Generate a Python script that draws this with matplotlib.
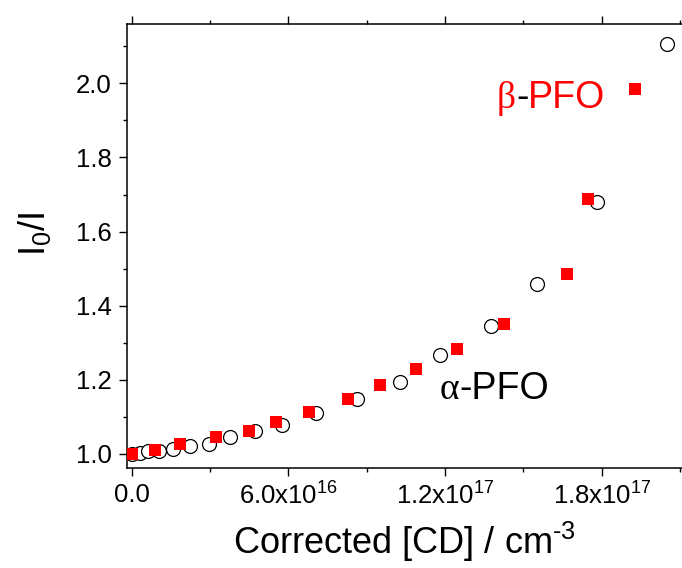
import matplotlib
matplotlib.use('Agg')
import matplotlib.pyplot as plt
from matplotlib.ticker import MultipleLocator, FuncFormatter

plt.rcParams['font.family'] = ['Liberation Sans', 'DejaVu Sans']
plt.rcParams['mathtext.fontset'] = 'custom'
plt.rcParams['mathtext.rm'] = 'Liberation Sans'
plt.rcParams['mathtext.it'] = 'Liberation Sans'
plt.rcParams['mathtext.default'] = 'regular'

# concentration in units of 1e16 cm^-3, quenching ratio I0/I
alpha_x = [0.0, 0.33, 0.61, 1.04, 1.58, 2.25, 2.96, 3.77, 4.74, 5.76, 7.04,
           8.61, 10.26, 11.82, 13.76, 15.51, 17.83, 20.49]
alpha_y = [1.000, 1.003, 1.007, 1.009, 1.013, 1.022, 1.028, 1.045, 1.063, 1.079,
           1.110, 1.147, 1.195, 1.268, 1.344, 1.459, 1.679, 2.106]

beta_x = [0.0, 0.90, 1.86, 3.22, 4.50, 5.53, 6.79, 8.29, 9.50, 10.87, 12.45,
          14.27, 16.68, 17.49, 19.28]
beta_y = [1.000, 1.010, 1.026, 1.045, 1.063, 1.086, 1.113, 1.147, 1.185, 1.230,
          1.284, 1.351, 1.486, 1.689, 1.984]

scale = 1e16

fig = plt.figure(figsize=(6.82, 5.68), dpi=100)
ax = fig.add_axes([0.1858, 0.176, 0.8142, 0.781])

ax.plot([v * scale for v in alpha_x], alpha_y, 'o', ls='none', ms=10,
        mfc='white', mec='black', mew=0.9, zorder=2)
ax.plot([v * scale for v in beta_x], beta_y, 's', ls='none', ms=8.4,
        mfc='#ff0000', mec='#ff0000', mew=0, zorder=3)

ax.set_xlim(-0.19e16, 21.07e16)
ax.set_ylim(0.962, 2.159)

ax.xaxis.set_major_locator(MultipleLocator(6e16))
ax.xaxis.set_minor_locator(MultipleLocator(3e16))
ax.yaxis.set_major_locator(MultipleLocator(0.2))
ax.yaxis.set_minor_locator(MultipleLocator(0.1))


def fmt_x(v, pos):
    if abs(v) < 1:
        return '0.0'
    e = 16
    m = v / 1e16
    while m >= 10:
        m = m / 10
        e = e + 1
    return '%.1fx10$^{%d}$' % (m, e)


ax.xaxis.set_major_formatter(FuncFormatter(fmt_x))
ax.yaxis.set_major_formatter(FuncFormatter(lambda v, p: '%.1f' % v))

ax.spines['right'].set_visible(False)
for s in ['left', 'bottom', 'top']:
    ax.spines[s].set_linewidth(1.1)

ax.tick_params(which='both', direction='out', top=True, right=False,
               width=1.0, labelsize=18.5, pad=5)
ax.tick_params(which='major', length=5.6)
ax.tick_params(which='minor', length=3.0)

ax.set_xlabel(r'Corrected [CD] / cm$^{\text{-}3}$', fontsize=26, labelpad=7)
ax.set_ylabel('I$_0$/I', fontsize=26)
ax.yaxis.set_label_coords(-0.132, 0.527)

# labels: Greek letter, hyphen and name drawn as separate pieces
t1 = ax.text(13.98e16, 1.933, 'β', color='#ff0000', fontsize=27,
             family=['Liberation Serif', 'DejaVu Serif'], va='baseline')
t2 = ax.annotate('-', xy=(1, 1.933), xycoords=(t1, 'data'), color='black',
                 fontsize=27, va='baseline')
ax.annotate('PFO', xy=(1, 1.933), xycoords=(t2, 'data'), color='#ff0000',
            fontsize=27, va='baseline')

t3 = ax.text(11.80e16, 1.148, 'α', color='black', fontsize=27,
             family=['Liberation Serif', 'DejaVu Serif'], va='baseline')
ax.annotate('-PFO', xy=(1, 1.148), xycoords=(t3, 'data'), color='black',
            fontsize=27, va='baseline')

fig.savefig('out.png', dpi=100)
